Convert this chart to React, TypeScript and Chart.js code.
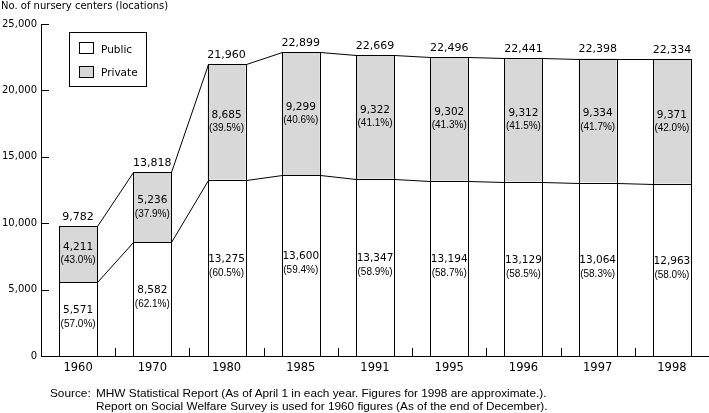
import React, { useEffect, useRef } from "react";
import { Chart, registerables } from "chart.js";
Chart.register(...registerables);

const years = ["1960", "1970", "1980", "1985", "1991", "1995", "1996", "1997", "1998"];
const publicCenters = [5571, 8582, 13275, 13600, 13347, 13194, 13129, 13064, 12963];
const privateCenters = [4211, 5236, 8685, 9299, 9322, 9302, 9312, 9334, 9371];
const totalCenters = [9782, 13818, 21960, 22899, 22669, 22496, 22441, 22398, 22334];
const publicShare = ["57.0", "62.1", "60.5", "59.4", "58.9", "58.7", "58.5", "58.3", "58.0"];
const privateShare = ["43.0", "37.9", "39.5", "40.6", "41.1", "41.3", "41.5", "41.7", "42.0"];
const yTicks = [0, 5000, 10000, 15000, 20000, 25000];
const seriesNames = ["Public", "Private"];
const titleText = "No. of nursery centers (locations)";
const sourceLabel = "Source:";
const sourceLines = [
  "MHW Statistical Report (As of April 1 in each year. Figures for 1998 are approximate.).",
  "Report on Social Welfare Survey is used for 1960 figures (As of the end of December).",
];

const fmt = (v: number) => v.toLocaleString("en-US");
const NUM_FONT = "10.5px 'DejaVu Sans'";
const PCT_FONT = "10px 'Liberation Sans'";
const TOTAL_FONT = "11px 'DejaVu Sans'";

const overlay = {
  id: "overlay",
  afterDatasetsDraw(chart: any) {
    const ctx = chart.ctx as CanvasRenderingContext2D;
    const pub = chart.getDatasetMeta(0).data;
    const pri = chart.getDatasetMeta(1).data;
    const xs = chart.scales.x;
    const ys = chart.scales.y;
    const r = (v: number) => Math.round(v) + 0.5;
    const line = (x1: number, y1: number, x2: number, y2: number) => {
      ctx.beginPath();
      ctx.moveTo(x1, y1);
      ctx.lineTo(x2, y2);
      ctx.stroke();
    };
    ctx.save();
    ctx.strokeStyle = "#000";
    ctx.lineWidth = 1;
    // crisp bar outlines
    for (const meta of [pub, pri]) {
      for (const el of meta) {
        const l = r(el.x - el.width / 2);
        const rt = r(el.x + el.width / 2);
        const t = r(el.y);
        const b = r(el.base);
        ctx.strokeRect(l, t, rt - l, b - t);
      }
    }
    // connectors
    for (let i = 0; i < pub.length - 1; i++) {
      const a = pub[i], b = pub[i + 1];
      const ar = r(a.x + a.width / 2);
      const bl = r(b.x - b.width / 2);
      line(ar, r(a.y), bl, r(b.y));
      const c = pri[i], d = pri[i + 1];
      line(ar, r(c.y), bl, r(d.y));
    }
    // inward ticks
    for (const v of yTicks) {
      const y = r(ys.getPixelForValue(v));
      line(xs.left, y, xs.left + 8, y);
    }
    for (let i = 0; i < years.length - 1; i++) {
      const x = r((xs.getPixelForValue(i) + xs.getPixelForValue(i + 1)) / 2);
      line(x, ys.bottom, x, ys.bottom - 8);
    }
    // labels
    ctx.fillStyle = "#000";
    ctx.textAlign = "center";
    ctx.textBaseline = "middle";
    for (let i = 0; i < pub.length; i++) {
      const p = pub[i], q = pri[i];
      const pc = (p.y + p.base) / 2;
      ctx.font = NUM_FONT;
      ctx.fillText(fmt(publicCenters[i]), p.x, pc - 9);
      ctx.font = PCT_FONT;
      ctx.fillText("(" + publicShare[i] + "%)", p.x, pc + 5);
      const qc = (q.y + q.base) / 2;
      ctx.font = NUM_FONT;
      ctx.fillText(fmt(privateCenters[i]), q.x, qc - 6.8);
      ctx.font = PCT_FONT;
      ctx.fillText("(" + privateShare[i] + "%)", q.x, qc + 6.6);
      ctx.font = TOTAL_FONT;
      ctx.fillText(fmt(totalCenters[i]), q.x, q.y - 9);
    }
    // legend
    const ds = chart.data.datasets;
    ctx.strokeRect(69.5, 32.5, 77, 54);
    ctx.textAlign = "left";
    ctx.textBaseline = "alphabetic";
    ctx.font = "10.5px 'DejaVu Sans'";
    for (let k = 0; k < 2; k++) {
      const y = 42.5 + k * 24;
      ctx.fillStyle = ds[k].backgroundColor;
      ctx.fillRect(79.5, y, 14, 11);
      ctx.strokeRect(79.5, y, 14, 11);
      ctx.fillStyle = "#000";
      ctx.fillText(seriesNames[k], 101, 52.5 + k * 23);
    }
    ctx.restore();
  },
};

export default function App() {
  const ref = useRef<HTMLCanvasElement>(null);
  useEffect(() => {
    const chart = new Chart(ref.current!, {
      type: "bar",
      data: {
        labels: years,
        datasets: [
          {
            label: seriesNames[0],
            data: publicCenters,
            backgroundColor: "#ffffff",
            borderWidth: 0,
            barPercentage: 0.512,
            categoryPercentage: 1,
          },
          {
            label: seriesNames[1],
            data: privateCenters,
            backgroundColor: "#d8d8d8",
            borderWidth: 0,
            barPercentage: 0.512,
            categoryPercentage: 1,
          },
        ],
      },
      options: {
        responsive: false,
        animation: false,
        devicePixelRatio: 1,
        layout: { padding: { top: 24, right: 0, left: 0, bottom: 0 } },
        plugins: { legend: { display: false }, tooltip: { enabled: false } },
        scales: {
          x: {
            stacked: true,
            grid: { display: false, drawTicks: false },
            border: { display: true, color: "#000", width: 1 },
            ticks: {
              color: "#000",
              font: { family: "DejaVu Sans", size: 11.5 },
              padding: 5,
              maxRotation: 0,
              autoSkip: false,
            },
            afterFit: (s: any) => {
              s.height = 57;
            },
          },
          y: {
            stacked: true,
            min: 0,
            max: 25000,
            ticks: {
              stepSize: 5000,
              color: "#000",
              font: { family: "DejaVu Sans", size: 10 },
              padding: 4,
              callback: (v: any) => fmt(Number(v)),
            },
            grid: { display: false, drawTicks: false },
            border: { display: true, color: "#000", width: 1 },
            afterFit: (s: any) => {
              s.width = 41;
            },
          },
        },
      },
      plugins: [overlay],
    });
    return () => chart.destroy();
  }, []);

  const textStyle: React.CSSProperties = {
    position: "absolute",
    font: "11.8px 'Liberation Sans'",
    lineHeight: "13px",
    whiteSpace: "nowrap",
    color: "#000",
  };

  return (
    <div style={{ position: "absolute", left: 0, top: 0, width: 709, height: 413, background: "#fff" }}>
      <canvas ref={ref} width={709} height={413} style={{ position: "absolute", left: 0, top: 0 }} />
      <div
        style={{
          position: "absolute",
          left: 1,
          top: 0,
          font: "10px 'DejaVu Sans'",
          lineHeight: "12px",
          whiteSpace: "nowrap",
          color: "#000",
        }}
      >
        {titleText}
      </div>
      <div style={{ ...textStyle, left: 50, top: 387 }}>{sourceLabel}</div>
      <div style={{ ...textStyle, left: 96, top: 387 }}>
        {sourceLines.map((t, i) => (
          <div key={i}>{t}</div>
        ))}
      </div>
    </div>
  );
}
